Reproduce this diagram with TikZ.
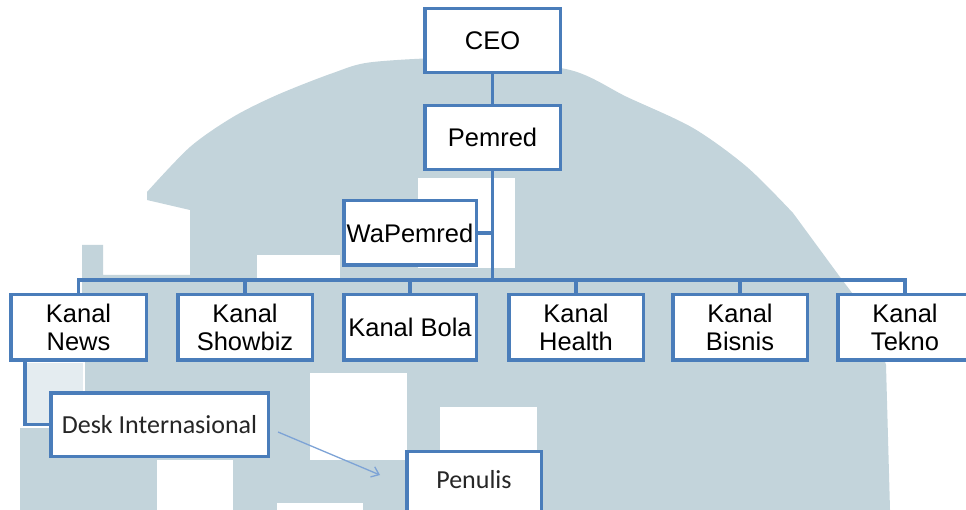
\documentclass[tikz,border=0pt]{standalone}
\usepackage{fontspec}
\setmainfont{Liberation Sans}
\newfontfamily\calib{Carlito}
\usetikzlibrary{arrows.meta}
\definecolor{bx}{HTML}{4A7DBA}
\definecolor{wm}{HTML}{C3D4DB}
\definecolor{wmlight}{HTML}{E4ECF0}
\definecolor{ar}{HTML}{7DA3D6}
\begin{document}
\begin{tikzpicture}[x=1pt,y=-1pt,
  box/.style={draw=bx,line width=3.5pt,fill=white,inner sep=0pt,align=center,
    minimum height=64pt,font=\fontsize{25.5}{28}\selectfont},
  deskbox/.style={box,font=\calib\fontsize{26}{28}\selectfont,text=black!85},
  conn/.style={draw=bx,line width=3.5pt,line join=miter},
  arr/.style={draw=ar,line width=1.3pt,-{Straight Barb[length=7pt,width=11pt]}},
  window/.style={fill=white}]
\useasboundingbox (0,0) rectangle (966,510);
% watermark
\fill[white] (0,0) rectangle (966,510);
\fill[wm] plot[smooth] coordinates {(147,192) (190,147) (233,117) (277,95) (333,73) (373,62) (470,58) (570,70) (627,97) (693,128) (747,167) (793,213)}
  -- (840,277) -- (874,322) -- (886,365) -- (890,510) -- (20,510) -- (20,428) -- (85,428) -- (85,300) -- (82,300) -- (82,245) -- (103,245) -- (103,275) -- (190,275) -- (190,210) -- (147,200) -- cycle;
\fill[wmlight] (27,363) rectangle (83,425);
\fill[window] (257,255) rectangle (340,280);
\fill[window] (418,178) rectangle (515,268);
\fill[window] (310,373) rectangle (407,460);
\fill[window] (440,407) rectangle (537,450);
\fill[window] (157,460) rectangle (233,510);
\fill[window] (277,503) rectangle (363,510);
% nodes
\node[box,minimum width=135.5pt] (ceo) at (492.5,40.5) {CEO};
\node[box,minimum width=135.5pt] (pem) at (492.5,137.5) {Pemred};
\node[box,minimum width=132.5pt,minimum height=64.5pt] (wap) at (410,233) {WaPemred};
\coordinate (j) at (492.5,280);
\node[box,minimum width=135.5pt,minimum height=65.5pt] (kn) at (78.5,327.5) {Kanal\\News};
\node[box,minimum width=134.5pt,minimum height=65.5pt] (ks) at (245,327.5) {Kanal\\Showbiz};
\node[box,minimum width=132.5pt,minimum height=65.5pt] (kb) at (410,327.5) {Kanal Bola};
\node[box,minimum width=134.5pt,minimum height=65.5pt] (kh) at (576,327.5) {Kanal\\Health};
\node[box,minimum width=134.5pt,minimum height=65.5pt] (kbi) at (740,327.5) {Kanal\\Bisnis};
\node[box,minimum width=134.5pt,minimum height=65.5pt] (kt) at (905,327.5) {Kanal\\Tekno};
\node[deskbox,minimum width=217.5pt,minimum height=63.5pt] (desk) at (159.5,424.5) {Desk Internasional};
\node[deskbox,minimum width=134.5pt,text depth=8pt] (pen) at (474,483.5) {Penulis};
% connectors
\draw[conn] (ceo.south) -- (pem.north);
\draw[conn] (pem.south) -- (j);
\draw[conn] (wap.east) -- (wap.east -| pem.south);
\draw[conn] (j) -| (kn.north);
\draw[conn] (j) -| (ks.north);
\draw[conn] (j) -| (kb.north);
\draw[conn] (j) -| (kh.north);
\draw[conn] (j) -| (kbi.north);
\draw[conn] (j) -| (kt.north);
\draw[conn] ([xshift=-53.5pt]kn.south) |- (desk.west);
\coordinate (a1) at (278,432);
\coordinate (a2) at (380,475);
\draw[arr] (a1) -- (a2);
\end{tikzpicture}
\end{document}
